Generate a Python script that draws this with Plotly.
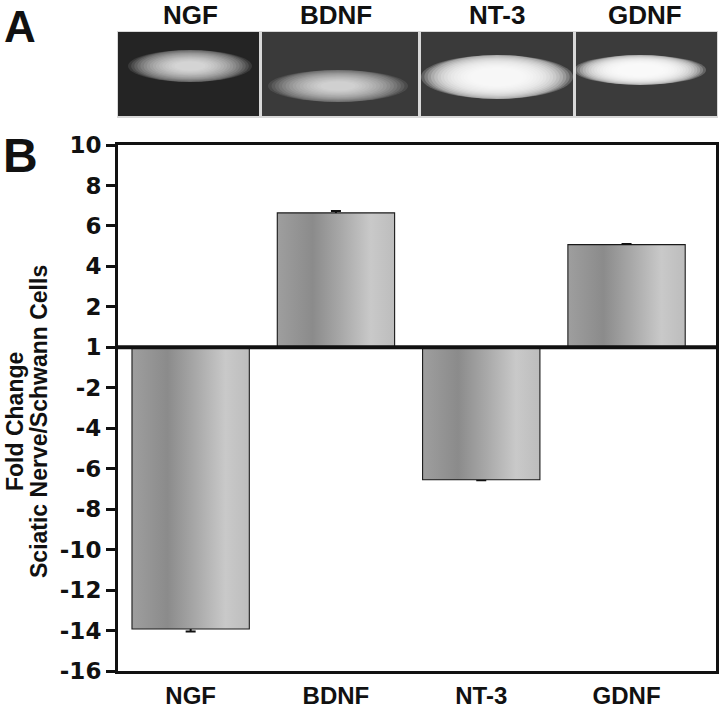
import plotly.graph_objects as go

# ---- data ----
categories = ["NGF", "BDNF", "NT-3", "GDNF"]
fold_change = [-13.9, 6.62, -6.52, 5.05]
fold_error = [0.15, 0.12, 0.05, 0.06]
y_tickvals = [10, 8, 6, 4, 2, 0, -2, -4, -6, -8, -10, -12, -14, -16]
y_ticktext = ["10", "8", "6", "4", "2", "1", "-2", "-4", "-6", "-8", "-10", "-12", "-14", "-16"]
y_title_lines = ["Fold Change", "Sciatic Nerve/Schwann Cells"]

# ---- layout geometry (pixels) ----
WIDTH, HEIGHT = 720, 710
L, R, T, B = 118, 716, 145, 671
PW, PH = R - L, B - T
CAT_PX = 145.3
BAR_W = 0.8
FONT = "Liberation Sans, Arial, Helvetica, sans-serif"
FONT_WIDE = "DejaVu Sans, Verdana, sans-serif"
FONT_NARROW = "Liberation Sans Narrow, Arial Narrow, Liberation Sans, Arial, sans-serif"


def px(x):
    return (x - L) / PW


def py(y):
    return (B - y) / PH


x_pos = list(range(len(categories)))
x_lo = -0.5
x_hi = x_lo + PW / CAT_PX

fig = go.Figure()

grad = [[0.0, "#9e9e9e"], [0.3, "#8b8b8b"], [0.55, "#a9a9a9"],
        [0.8, "#c9c9c9"], [1.0, "#bdbdbd"]]

for xi, v in zip(x_pos, fold_change):
    xs = [xi - BAR_W / 2, xi + BAR_W / 2, xi + BAR_W / 2, xi - BAR_W / 2, xi - BAR_W / 2]
    ys = [0, 0, v, v, 0]
    fig.add_trace(go.Scatter(
        x=xs, y=ys, mode="lines", fill="toself",
        line=dict(width=0, color="rgba(0,0,0,0)"),
        fillgradient=dict(type="horizontal", colorscale=grad),
        hoverinfo="skip", showlegend=False,
    ))

fig.add_trace(go.Bar(
    x=x_pos, y=fold_change, width=BAR_W,
    marker=dict(color="rgba(0,0,0,0)", line=dict(color="#1a1a1a", width=2.2)),
    error_y=dict(type="data", array=fold_error, color="#111111", thickness=2, width=5),
    showlegend=False,
))

shapes = []
# zero line (labelled "1")
shapes.append(dict(type="line", xref="paper", yref="y", x0=0, x1=1, y0=0, y1=0,
                   line=dict(color="#111111", width=4), layer="above"))

# ---- panel A: gel images drawn as shapes ----
shapes.append(dict(type="rect", xref="paper", yref="paper",
                   x0=px(117), x1=px(718), y0=py(118), y1=py(31),
                   fillcolor="#d8d8d8", line=dict(width=0), layer="below"))
panels = [
    (118, 259, "#242424"),
    (262, 418, "#3a3a3a"),
    (421, 573, "#3a3a3a"),
    (576, 717, "#3b3b3b"),
]
for x0, x1, col in panels:
    shapes.append(dict(type="rect", xref="paper", yref="paper",
                       x0=px(x0), x1=px(x1), y0=py(116), y1=py(32),
                       fillcolor=col, line=dict(width=0), layer="below"))

# bands: (cx, cy, outer half-width, outer half-height, layer opacity, min scale)
bands = [
    (190, 66, 62, 16, 0.10, 0.25),
    (338, 86, 70, 16, 0.09, 0.25),
    (497, 77, 76, 22, 0.20, 0.35),
    (640, 70, 66, 15, 0.21, 0.35),
]
N_LAYERS = 16
for (cx, cy, hw, hh, op, smin) in bands:
    for k in range(N_LAYERS):
        s = 1.0 - (1.0 - smin) * k / (N_LAYERS - 1)
        shapes.append(dict(type="circle", xref="paper", yref="paper",
                           x0=px(cx - hw * s), x1=px(cx + hw * s),
                           y0=py(cy + hh * min(1.0, s * 1.15)),
                           y1=py(cy - hh * min(1.0, s * 1.15)),
                           fillcolor="white", opacity=op, line=dict(width=0), layer="below"))

annotations = []
gel_label_x = [190, 336, 497, 645]
for lab, gx in zip(categories, gel_label_x):
    annotations.append(dict(text=lab, xref="paper", yref="paper", x=px(gx), y=py(15),
                            showarrow=False, xanchor="center", yanchor="middle",
                            font=dict(family=FONT_NARROW, size=26, color="#111111", weight="bold")))
annotations.append(dict(text="A", xref="paper", yref="paper", x=px(2), y=py(0),
                        showarrow=False, xanchor="left", yanchor="top",
                        font=dict(family=FONT, size=44, color="#111111", weight="bold")))
annotations.append(dict(text="B", xref="paper", yref="paper", x=px(1), y=py(155),
                        showarrow=False, xanchor="left", yanchor="middle",
                        font=dict(family=FONT, size=48, color="#111111", weight="bold")))
for line_txt, lx in zip(y_title_lines, [15, 39]):
    annotations.append(dict(text=line_txt,
                            xref="paper", yref="paper", x=px(lx), y=py(422),
                            showarrow=False, textangle=-90, xanchor="center", yanchor="middle",
                            font=dict(family=FONT, size=23, color="#111111", weight="bold")))

fig.update_layout(
    width=WIDTH, height=HEIGHT,
    margin=dict(l=L, r=WIDTH - R, t=T, b=HEIGHT - B, autoexpand=False),
    paper_bgcolor="white", plot_bgcolor="white",
    shapes=shapes, annotations=annotations,
    showlegend=False, bargap=0.2,
    xaxis=dict(range=[x_lo, x_hi], tickvals=x_pos, ticktext=categories,
               showgrid=False, zeroline=False, ticks="", ticklabelstandoff=1,
               automargin=False,
               showline=True, mirror=True, linewidth=3, linecolor="#111111",
               tickfont=dict(family=FONT, size=24, color="#111111", weight="bold")),
    yaxis=dict(range=[-16, 10], tickvals=y_tickvals, ticktext=y_ticktext,
               showgrid=False, zeroline=False, ticks="outside", ticklen=9,
               tickwidth=3, tickcolor="#111111", automargin=False,
               showline=True, mirror=True, linewidth=3, linecolor="#111111",
               tickfont=dict(family=FONT_WIDE, size=23, color="#111111", weight="bold")),
)

fig.write_html("out.html", config={"displayModeBar": False},
               post_script="document.body.style.margin='0';")
